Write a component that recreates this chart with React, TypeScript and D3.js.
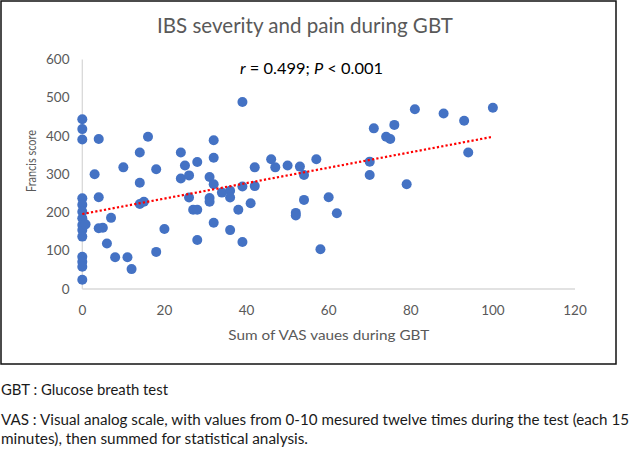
import React from "react";
import * as d3 from "d3";

const title = "IBS severity and pain during GBT";
const annotationR = "r";
const annotationRest1 = " = 0.499; ";
const annotationP = "P";
const annotationRest2 = " < 0.001";
const xAxisTitle = "Sum of VAS vaues during GBT";
const yAxisTitle = "Francis score";
const footnote1 = "GBT : Glucose breath test";
const footnote2 = "VAS : Visual analog scale, with values from 0-10 mesured twelve times during the test (each 15";
const footnote3 = "minutes), then summed for statistical analysis.";

const xTicks = [0, 20, 40, 60, 80, 100, 120];
const yTicks = [0, 100, 200, 300, 400, 500, 600];

const vasSum = [
  0, 0, 0, 0, 0, 0, 0, 0, 0, 0, 0, 0, 0, 0,
  0.8, 3, 4, 4, 4, 5, 6, 7, 8, 10, 11, 12, 14, 14, 14, 15, 16, 18, 18, 20,
  24, 24, 25, 26, 26, 27, 28, 28, 28, 31, 31, 31, 32, 32, 32, 32, 34, 36, 36, 36,
  38, 39, 39, 39, 41, 42, 42, 46, 47, 50, 53, 54, 52, 52, 54, 57, 58, 60, 62,
  70, 70, 71, 74, 75, 76, 79, 81, 88, 93, 94, 100,
];
const francis = [
  444, 418, 391, 237, 220, 202, 185, 167, 154, 137, 84, 71, 58, 24,
  169, 300, 392, 240, 159, 160, 119, 186, 83, 318, 83, 52, 357, 278, 222, 228, 398, 313, 97, 157,
  357, 289, 323, 297, 239, 207, 207, 332, 128, 293, 238, 228, 389, 343, 274, 173, 252, 257, 239, 154,
  207, 489, 268, 123, 224, 318, 269, 339, 318, 323, 320, 298, 199, 192, 233, 339, 104, 240, 198,
  333, 298, 420, 398, 392, 429, 274, 470, 459, 440, 357, 474,
];

const trendX = [0, 100];
const trendY = [196, 398];

const W = 630;
const H = 454;

export default function App() {
  const x = d3.scaleLinear().domain([0, 120]).range([82.3, 575]);
  const y = d3.scaleLinear().domain([0, 600]).range([289, 59.5]);
  const grey = "#595959";
  const font = "Lato, 'Open Sans', sans-serif";

  const line = d3
    .line<number>()
    .x((_, i) => x(trendX[i]))
    .y((_, i) => y(trendY[i]));

  return (
    <svg
      width={W}
      height={H}
      style={{ position: "absolute", left: 0, top: 0, display: "block", background: "#fff" }}
      fontFamily={font}
    >
      <rect x={0} y={0} width={W} height={H} fill="#fff" />
      <rect x={1} y={1} width={615} height={363} fill="#fff" stroke="#111" strokeWidth={1.5} />

      <text x={305} y={33} textAnchor="middle" fontSize={21} fill={grey} textLength={296} lengthAdjust="spacingAndGlyphs">
        {title}
      </text>

      <text x={311.5} y={73.5} textAnchor="middle" fontSize={16} fill="#000" textLength={143} lengthAdjust="spacingAndGlyphs">
        <tspan fontStyle="italic">{annotationR}</tspan>
        <tspan>{annotationRest1}</tspan>
        <tspan fontStyle="italic">{annotationP}</tspan>
        <tspan>{annotationRest2}</tspan>
      </text>

      {/* axes */}
      <line x1={x(0)} x2={x(0)} y1={y(600)} y2={y(0)} stroke="#d9d9d9" strokeWidth={1.3} />
      <line x1={x(0)} x2={x(120)} y1={y(0)} y2={y(0)} stroke="#d9d9d9" strokeWidth={1.3} />

      {yTicks.map((t) => (
        <text key={"y" + t} x={69.5} y={y(t)} dy="0.35em" textAnchor="end" fontSize={13.5} fill={grey}>
          {t}
        </text>
      ))}
      {xTicks.map((t) => (
        <text key={"x" + t} x={x(t)} y={314.5} textAnchor="middle" fontSize={13.5} fill={grey}>
          {t}
        </text>
      ))}

      <text x={328.8} y={339.5} textAnchor="middle" fontSize={14} fill={grey} textLength={201} lengthAdjust="spacingAndGlyphs">
        {xAxisTitle}
      </text>
      <text
        transform={`translate(35.5,161) rotate(-90)`}
        textAnchor="middle"
        fontSize={14}
        fill={grey}
        textLength={62}
        lengthAdjust="spacingAndGlyphs"
      >
        {yAxisTitle}
      </text>

      {vasSum.map((v, i) => (
        <circle key={i} cx={x(v)} cy={y(francis[i])} r={5} fill="#4472C4" />
      ))}

      <path
        d={line(trendX) || ""}
        fill="none"
        stroke="#FF0000"
        strokeWidth={2.2}
        strokeDasharray="2.2,2.2"
      />

      <text x={1} y={394.5} fontSize={15} fill="#1a1a1a" textLength={167} lengthAdjust="spacingAndGlyphs">
        {footnote1}
      </text>
      <text x={1} y={425} fontSize={14.5} fill="#1a1a1a" textLength={628} lengthAdjust="spacingAndGlyphs">
        {footnote2}
      </text>
      <text x={1} y={443.5} fontSize={14.5} fill="#1a1a1a" textLength={307} lengthAdjust="spacingAndGlyphs">
        {footnote3}
      </text>
    </svg>
  );
}
